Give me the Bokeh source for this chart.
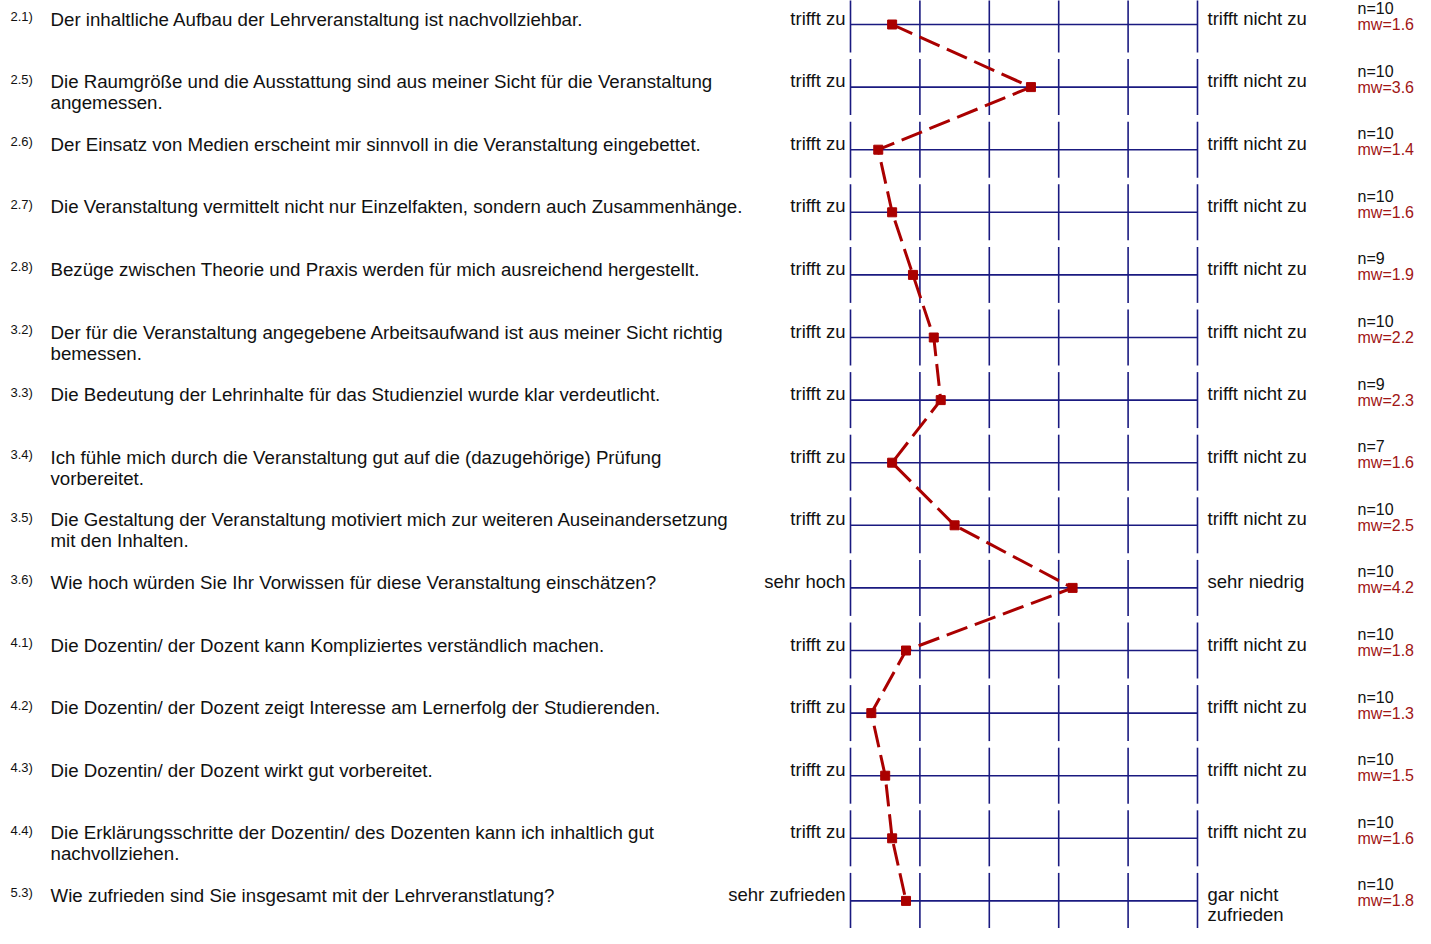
from bokeh.plotting import figure
from bokeh.models import Range1d, ColumnDataSource
from bokeh.core.properties import value
from bokeh.embed import file_html
from bokeh.resources import INLINE

# ---------------- data ----------------
numbers = ["2.1)", "2.5)", "2.6)", "2.7)", "2.8)", "3.2)", "3.3)", "3.4)",
           "3.5)", "3.6)", "4.1)", "4.2)", "4.3)", "4.4)", "5.3)"]
questions = [
    "Der inhaltliche Aufbau der Lehrveranstaltung ist nachvollziehbar.",
    "Die Raumgröße und die Ausstattung sind aus meiner Sicht für die Veranstaltung\nangemessen.",
    "Der Einsatz von Medien erscheint mir sinnvoll in die Veranstaltung eingebettet.",
    "Die Veranstaltung vermittelt nicht nur Einzelfakten, sondern auch Zusammenhänge.",
    "Bezüge zwischen Theorie und Praxis werden für mich ausreichend hergestellt.",
    "Der für die Veranstaltung angegebene Arbeitsaufwand ist aus meiner Sicht richtig\nbemessen.",
    "Die Bedeutung der Lehrinhalte für das Studienziel wurde klar verdeutlicht.",
    "Ich fühle mich durch die Veranstaltung gut auf die (dazugehörige) Prüfung\nvorbereitet.",
    "Die Gestaltung der Veranstaltung motiviert mich zur weiteren Auseinandersetzung\nmit den Inhalten.",
    "Wie hoch würden Sie Ihr Vorwissen für diese Veranstaltung einschätzen?",
    "Die Dozentin/ der Dozent kann Kompliziertes verständlich machen.",
    "Die Dozentin/ der Dozent zeigt Interesse am Lernerfolg  der Studierenden.",
    "Die Dozentin/ der Dozent wirkt gut vorbereitet.",
    "Die Erklärungsschritte der Dozentin/ des Dozenten kann ich inhaltlich gut\nnachvollziehen.",
    "Wie zufrieden sind Sie insgesamt mit der Lehrveranstlatung?",
]
left_labels = ["trifft zu"] * 9 + ["sehr hoch"] + ["trifft zu"] * 4 + ["sehr zufrieden"]
right_labels = ["trifft nicht zu"] * 9 + ["sehr niedrig"] + ["trifft nicht zu"] * 4 + ["gar nicht\nzufrieden"]
n_values = [10, 10, 10, 10, 9, 10, 9, 7, 10, 10, 10, 10, 10, 10, 10]
means = [1.6, 3.6, 1.4, 1.6, 1.9, 2.2, 2.3, 1.6, 2.5, 4.2, 1.8, 1.3, 1.5, 1.6, 1.8]
scale_levels = [1, 2, 3, 4, 5, 6]

# ---------------- layout ----------------
W, H = 1415, 928
px_per_unit = 69.4          # pixels per scale step
row_px = 62.6               # pixels per row
lo, hi = scale_levels[0], scale_levels[-1]
x_left = lo - 850 / px_per_unit
x_right = x_left + W / px_per_unit
y_top = -24 / row_px
y_bottom = y_top + H / row_px

p = figure(width=W, height=H, output_backend="svg", toolbar_location=None,
           x_range=Range1d(x_left, x_right), y_range=Range1d(y_bottom, y_top),
           min_border=0, outline_line_color=None)
p.axis.visible = False
p.grid.visible = False
p.background_fill_color = "white"
p.border_fill_color = "white"

rows = list(range(len(questions)))
navy = "#1a1a80"
red = "#aa0000"
half = 28 / row_px

# vertical scale segments
vx, vy0, vy1 = [], [], []
for r in rows:
    for lv in scale_levels:
        vx.append(lv)
        vy0.append(r - half)
        vy1.append(r + half)
p.segment(x0=vx, x1=vx, y0=vy0, y1=vy1, line_color=navy, line_width=1.6)

# horizontal lines
p.segment(x0=[lo] * len(rows), x1=[hi] * len(rows), y0=rows, y1=rows,
          line_color=navy, line_width=1.6)

# profile line
p.line(means, rows, line_color=red, line_width=3, line_dash="22 8")
p.scatter(means, rows, marker="square", size=9, fill_color=red, line_color=red)

font = value("Liberation Sans")
src = ColumnDataSource(dict(row=rows, num=numbers, q=questions, ll=left_labels,
                            rl=right_labels,
                            n=[f"n={v}" for v in n_values],
                            mw=[f"mw={v:.1f}" for v in means],
                            lo=[lo] * len(rows), hi=[hi] * len(rows)))

p.text(x="lo", y="row", text="num", source=src, x_offset=10 - 850, y_offset=-8,
       text_font=font, text_font_size="13px", text_color="#111111",
       text_baseline="alphabetic", text_align="left")
p.text(x="lo", y="row", text="q", source=src, x_offset=50 - 850, y_offset=-16,
       text_font=font, text_font_size="18.7px", text_color="#111111",
       text_baseline="top", text_align="left", text_line_height=1.0)
p.text(x="lo", y="row", text="ll", source=src, x_offset=-5, y_offset=-17,
       text_font=font, text_font_size="18.5px", text_color="#111111",
       text_baseline="top", text_align="right", text_line_height=1.0)
p.text(x="hi", y="row", text="rl", source=src, x_offset=10, y_offset=-17,
       text_font=font, text_font_size="18.5px", text_color="#111111",
       text_baseline="top", text_align="left", text_line_height=0.98)
p.text(x="hi", y="row", text="n", source=src, x_offset=160, y_offset=-16,
       text_font=font, text_font_size="16px", text_color="#111111",
       text_baseline="alphabetic", text_align="left")
p.text(x="hi", y="row", text="mw", source=src, x_offset=160, y_offset=0,
       text_font=font, text_font_size="16px", text_color="#a01515",
       text_baseline="alphabetic", text_align="left")

open("out.html", "w").write(file_html(p, INLINE))
